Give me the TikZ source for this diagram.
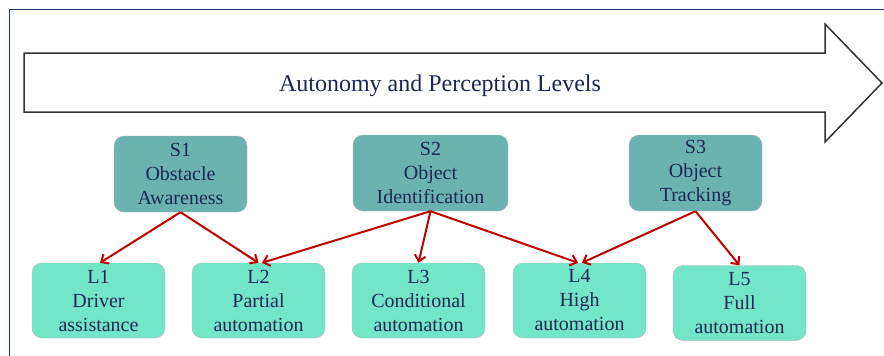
\documentclass[tikz,border=0pt]{standalone}
\usepackage{fontspec}
\setmainfont{Liberation Serif}
\usetikzlibrary{arrows.meta}
\definecolor{navy}{HTML}{1B2756}
\definecolor{framecol}{HTML}{1F3864}
\definecolor{sfill}{HTML}{6BB3B0}
\definecolor{lfill}{HTML}{74E6C8}
\definecolor{linkred}{HTML}{C00000}
\begin{document}
\begin{tikzpicture}[x=1pt,y=-1pt,
	stage/.style={draw=gray!60,line width=.4pt,fill=sfill,rounded corners=10pt,minimum width=133pt,minimum height=76pt,inner sep=0pt,align=center,text=navy,font=\fontsize{20}{24}\selectfont},
	level/.style={draw=gray!60,line width=.4pt,fill=lfill,rounded corners=10pt,minimum width=133pt,minimum height=75pt,inner sep=0pt,align=center,text=navy,font=\fontsize{20}{24}\selectfont},
	link/.style={draw=linkred,line width=2pt,-{Straight Barb[length=6pt,width=11pt]}}]
	\useasboundingbox (0,0) rectangle (884,356);
	\draw[framecol,line width=.8pt] (9,356) -- (9,9) -- (884,9);
	% big arrow
	\draw[black!80,line width=1.5pt,fill=white] (24,53) -- (825,53) -- (825,24) -- (882,83) -- (825,142) -- (825,112) -- (24,112) -- cycle;
	\node[text=navy,font=\fontsize{24}{28}\selectfont] (title) at (440,86) {Autonomy and Perception Levels};
	% stages
	\node[stage] (s1) at (180.5,174) {S1\\Obstacle\\Awareness};
	\node[stage,minimum width=155pt] (s2) at (430.5,173) {S2\\Object\\Identification};
	\node[stage] (s3) at (695.5,173) {S3\\Object\\Tracking};
	% levels
	\node[level] (l1) at (98.5,300.5) {L1\\Driver\\assistance};
	\node[level] (l2) at (258.5,300.5) {L2\\Partial\\automation};
	\node[level] (l3) at (418.5,300.5) {L3\\Conditional\\automation};
	\node[level] (l4) at (579.5,300.5) {L4\\High\\automation};
	\node[level] (l5) at (739.5,303) {L5\\Full\\automation};
	% links
	\draw[link] (s1.south) -- ([xshift=1.5pt]l1.north);
	\draw[link] (s1.south) -- (l2.north);
	\draw[link] (s2.south) -- ([xshift=3.5pt]l2.north);
	\draw[link] (s2.south) -- (l3.north);
	\draw[link] (s2.south) -- ([xshift=-1.5pt]l4.north);
	\draw[link] (s3.south) -- ([xshift=2.5pt]l4.north);
	\draw[link] (s3.south) -- (l5.north);
\end{tikzpicture}
\end{document}
